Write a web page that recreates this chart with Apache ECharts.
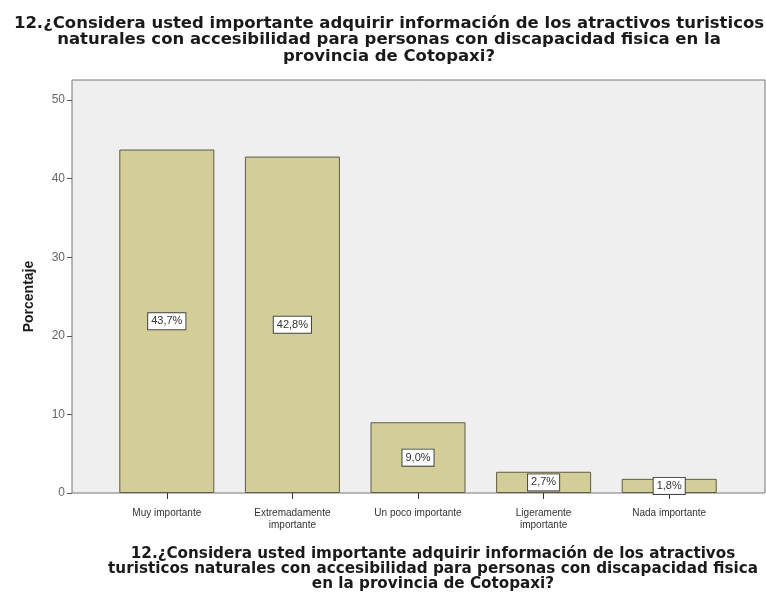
<!DOCTYPE html>
<html>
<head>
<meta charset="utf-8">
<script src="https://cdn.jsdelivr.net/npm/echarts@6/dist/echarts.min.js"></script>
<style>
html,body{margin:0;padding:0;background:#fff;}
#chart{width:766px;height:601px;}
</style>
</head>
<body>
<div id="chart"></div>
<script>
const categories = ['Muy importante', 'Extremadamente\nimportante', 'Un poco importante', 'Ligeramente\nimportante', 'Nada importante'];
const percentages = [43.7, 42.8, 9.0, 2.7, 1.8];
const yTicks = [0, 10, 20, 30, 40, 50];
const titleText = '12.¿Considera usted importante adquirir información de los atractivos turisticos\nnaturales con accesibilidad para personas con discapacidad fisica en la\nprovincia de Cotopaxi?';
const xTitleText = '12.¿Considera usted importante adquirir información de los atractivos\nturisticos naturales con accesibilidad para personas con discapacidad fisica\nen la provincia de Cotopaxi?';
const yTitleText = 'Porcentaje';

const font = "'Liberation Sans', Arial, sans-serif";
const wideFont = "'DejaVu Sans', 'Liberation Sans', sans-serif";
const chart = echarts.init(document.getElementById('chart'), null, {renderer: 'canvas'});
chart.setOption({
  animation: false,
  backgroundColor: '#ffffff',
  title: [{
    text: titleText,
    left: 384, top: 10, textAlign: 'center',
    textStyle: {fontFamily: wideFont, fontSize: 16.5, fontWeight: 'bold', color: '#1a1a1a', lineHeight: 16.5}
  }, {
    text: xTitleText,
    left: 428, top: 542, textAlign: 'center',
    textStyle: {fontFamily: wideFont, fontSize: 15.2, fontWeight: 'bold', color: '#1a1a1a', lineHeight: 15}
  }],
  grid: [
    {left: 72, right: 1, top: 80, bottom: 108, show: true, backgroundColor: '#efefef', borderColor: '#777', borderWidth: 1},
    {left: 72, right: 1, top: 100, bottom: 108},
    {left: 104, right: 34, top: 100, bottom: 108}
  ],
  xAxis: [
    {gridIndex: 0, type: 'value', show: false},
    {gridIndex: 1, type: 'value', show: false},
    {gridIndex: 2, type: 'category', data: categories,
     axisLine: {show: false},
     axisTick: {show: true, alignWithLabel: true, length: 6, lineStyle: {color: '#333'}},
     axisLabel: {fontFamily: font, fontSize: 10, color: '#333', margin: 14, lineHeight: 12, interval: 0}}
  ],
  yAxis: [
    {gridIndex: 0, type: 'value', show: false},
    {gridIndex: 1, type: 'value', min: 0, max: 50, interval: 10,
     name: yTitleText, nameLocation: 'middle', nameGap: 36, nameRotate: 90,
     nameTextStyle: {fontFamily: font, fontSize: 14, fontWeight: 'bold', color: '#1a1a1a'},
     axisLine: {show: false},
     axisTick: {show: true, length: 5, lineStyle: {color: '#555'}},
     axisLabel: {fontFamily: font, fontSize: 12, color: '#666', margin: 7,
                 formatter: v => yTicks.includes(v) ? String(v) : ''},
     splitLine: {show: false}},
    {gridIndex: 2, type: 'value', min: 0, max: 50, show: false, splitLine: {show: false}}
  ],
  series: [{
    type: 'bar',
    xAxisIndex: 2, yAxisIndex: 2,
    data: percentages,
    barWidth: 95,
    itemStyle: {color: '#d3ce98', borderColor: '#5e5c45', borderWidth: 1},
    label: {
      show: true, position: 'inside',
      formatter: p => p.value.toFixed(1).replace('.', ',') + '%',
      fontFamily: font, fontSize: 11, color: '#333',
      backgroundColor: '#ffffff', borderColor: '#444', borderWidth: 1,
      padding: [3, 3, 2, 3]
    }
  }]
});
</script>
</body>
</html>
